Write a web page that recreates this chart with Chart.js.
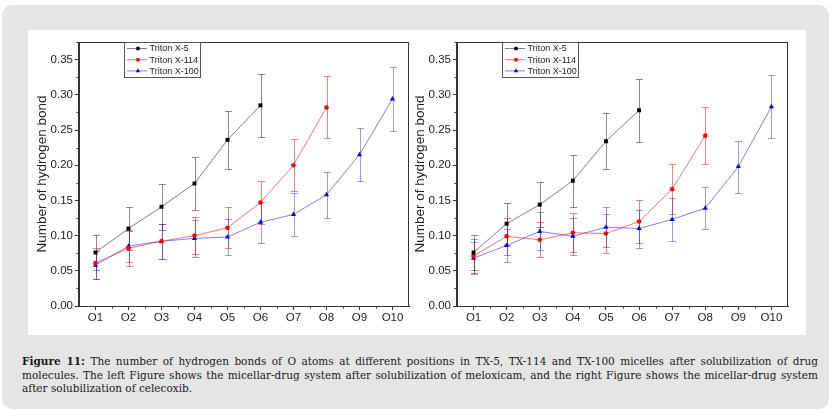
<!DOCTYPE html>
<html>
<head>
<meta charset="utf-8">
<script src="https://cdn.jsdelivr.net/npm/chart.js@4.4.0/dist/chart.umd.min.js"></script>
<style>
  html, body { margin: 0; padding: 0; background: #fff; }
  body { width: 840px; height: 417px; position: relative; overflow: hidden; font-family: "Liberation Sans", Arial, sans-serif; }
  .frame { position: absolute; left: 2px; top: 5px; width: 827px; height: 404px; background: #e5e5e5; border-radius: 10px; }
  .panel { position: absolute; left: 28px; top: 30px; width: 778px; height: 305px; background: #fff; }
  .box { position: absolute; top: 30px; height: 305px; }
  #leftBox { left: 28px; width: 386px; }
  #rightBox { left: 414px; width: 392px; }
  .caption { position: absolute; left: 22px; top: 355px; width: 796px; font-family: "DejaVu Serif", "Liberation Serif", serif; font-size: 10.5px; line-height: 13.5px; color: #1a1a1a; }
  .caption div { white-space: nowrap; }
  .caption .j { text-align: justify; text-align-last: justify; }
</style>
</head>
<body>
<div class="frame"></div>
<div class="panel"></div>
<div class="box" id="leftBox"><canvas id="leftChart"></canvas></div>
<div class="box" id="rightBox"><canvas id="rightChart"></canvas></div>
<div class="caption">
  <div class="j"><b>Figure 11:</b> The number of hydrogen bonds of O atoms at different positions in TX-5, TX-114 and TX-100 micelles after solubilization of drug</div>
  <div class="j">molecules. The left Figure shows the micellar-drug system after solubilization of meloxicam, and the right Figure shows the micellar-drug system</div>
  <div>after solubilization of celecoxib.</div>
</div>
<script>
// categories and series
const categories = ['O1', 'O2', 'O3', 'O4', 'O5', 'O6', 'O7', 'O8', 'O9', 'O10'];
const seriesNames = ['Triton X-5', 'Triton X-114', 'Triton X-100'];
const yTicks = [0, 0.05, 0.10, 0.15, 0.20, 0.25, 0.30, 0.35];

// left figure: meloxicam
const meloxX5 = [0.076, 0.110, 0.141, 0.174, 0.236, 0.285];
const meloxX5Err = [0.025, 0.030, 0.033, 0.037, 0.041, 0.045];
const meloxX114 = [0.061, 0.082, 0.092, 0.100, 0.111, 0.147, 0.200, 0.282];
const meloxX114Err = [0.022, 0.025, 0.025, 0.026, 0.029, 0.031, 0.037, 0.044];
const meloxX100 = [0.058, 0.085, 0.092, 0.096, 0.098, 0.119, 0.130, 0.158, 0.215, 0.294];
const meloxX100Err = [0.020, 0.023, 0.025, 0.026, 0.026, 0.029, 0.031, 0.033, 0.038, 0.045];

// right figure: celecoxib
const celeX5 = [0.076, 0.117, 0.144, 0.178, 0.234, 0.278];
const celeX5Err = [0.025, 0.030, 0.032, 0.037, 0.040, 0.045];
const celeX114 = [0.071, 0.099, 0.094, 0.104, 0.103, 0.120, 0.166, 0.242];
const celeX114Err = [0.024, 0.026, 0.025, 0.028, 0.028, 0.030, 0.035, 0.041];
const celeX100 = [0.068, 0.086, 0.106, 0.099, 0.112, 0.110, 0.123, 0.139, 0.198, 0.283];
const celeX100Err = [0.023, 0.024, 0.027, 0.026, 0.028, 0.027, 0.030, 0.030, 0.037, 0.045];

// styles
const markerColors = ['#000000', '#ff0000', '#0000ff'];
const lineColors = ['rgba(0,0,0,0.5)', 'rgba(255,0,0,0.55)', 'rgba(0,0,255,0.5)'];
const errorColors = ['rgba(0,0,0,0.45)', 'rgba(255,0,0,0.5)', 'rgba(0,0,255,0.4)'];
const pointStyles = ['rect', 'circle', 'triangle'];
const pointRadii = [2.8, 2.3, 3];
const axisColor = '#333';
const textColor = '#222';

// draw a marker the same way for the legend
const drawMarker = (ctx, style, r, x, y) => {
  ctx.beginPath();
  if (style === 'rect') {
    const s = r * Math.SQRT1_2;
    ctx.rect(x - s, y - s, 2 * s, 2 * s);
  } else if (style === 'circle') {
    ctx.arc(x, y, r, 0, Math.PI * 2);
  } else {
    ctx.moveTo(x, y - r);
    ctx.lineTo(x - r * 0.866, y + r * 0.5);
    ctx.lineTo(x + r * 0.866, y + r * 0.5);
    ctx.closePath();
  }
  ctx.fill();
};

// error bars, drawn under the markers
const errorBarPlugin = {
  id: 'errorBars',
  beforeDatasetsDraw(chart) {
    const { ctx, scales: { x, y } } = chart;
    ctx.save();
    ctx.lineWidth = 1;
    chart.data.datasets.forEach((ds, k) => {
      ctx.strokeStyle = errorColors[k];
      ds.data.forEach((v, i) => {
        const e = ds.errors[i];
        const px = Math.round(x.getPixelForValue(i)) + 0.5;
        const top = Math.round(y.getPixelForValue(v + e)) + 0.5;
        const bot = Math.round(y.getPixelForValue(v - e)) + 0.5;
        ctx.beginPath();
        ctx.moveTo(px, top);
        ctx.lineTo(px, bot);
        ctx.moveTo(px - 3.5, top);
        ctx.lineTo(px + 3.5, top);
        ctx.moveTo(px - 3.5, bot);
        ctx.lineTo(px + 3.5, bot);
        ctx.stroke();
      });
    });
    ctx.restore();
  }
};

// box frame, minor ticks and the boxed legend
const framePlugin = {
  id: 'frameAndLegend',
  afterDraw(chart) {
    const { ctx, chartArea: a, scales: { x, y } } = chart;
    ctx.save();
    ctx.strokeStyle = axisColor;
    ctx.lineWidth = 1;
    ctx.strokeRect(Math.round(a.left) - 0.5, Math.round(a.top) + 0.5, Math.round(a.right - a.left), Math.round(a.bottom - a.top));

    // minor ticks
    ctx.beginPath();
    for (let v = 0.025; v < y.max; v += 0.05) {
      const py = Math.round(y.getPixelForValue(v)) + 0.5;
      ctx.moveTo(a.left, py);
      ctx.lineTo(a.left - 2.5, py);
    }
    for (let i = 0; i < categories.length - 1; i++) {
      const px = Math.round(x.getPixelForValue(i + 0.5)) + 0.5;
      ctx.moveTo(px, a.bottom);
      ctx.lineTo(px, a.bottom + 2.5);
    }
    ctx.stroke();

    // legend
    const bx = Math.round(a.left + 45) + 0.5;
    const by = Math.round(a.top) + 0.5;
    ctx.strokeStyle = '#555';
    ctx.strokeRect(bx, by, 76, 35);
    ctx.font = '9px "Liberation Sans", Arial, sans-serif';
    ctx.textBaseline = 'middle';
    chart.data.datasets.forEach((ds, k) => {
      const ly = by + 6 + k * 11.2;
      ctx.strokeStyle = lineColors[k];
      ctx.beginPath();
      ctx.moveTo(bx + 2.5, ly);
      ctx.lineTo(bx + 22.5, ly);
      ctx.stroke();
      ctx.fillStyle = markerColors[k];
      drawMarker(ctx, pointStyles[k], pointRadii[k] * 0.85, bx + 13.5, ly);
      ctx.fillStyle = textColor;
      ctx.fillText(ds.label, bx + 25, ly + 0.5);
    });
    ctx.restore();
  }
};

const buildDatasets = (values, errors) => seriesNames.map((name, k) => ({
  label: name,
  data: values[k],
  errors: errors[k],
  borderColor: lineColors[k],
  backgroundColor: markerColors[k],
  pointBackgroundColor: markerColors[k],
  pointBorderColor: markerColors[k],
  pointBorderWidth: 0,
  pointStyle: pointStyles[k],
  pointRadius: pointRadii[k],
  borderWidth: 1,
  tension: 0,
  fill: false
}));

const makeChart = (id, values, errors, padLeft, padRight, yWidth) => new Chart(document.getElementById(id), {
  type: 'line',
  data: { labels: categories, datasets: buildDatasets(values, errors) },
  plugins: [errorBarPlugin, framePlugin],
  options: {
    responsive: true,
    maintainAspectRatio: false,
    animation: false,
    layout: { padding: { left: padLeft, right: padRight, top: 12, bottom: 0 } },
    plugins: { legend: { display: false }, tooltip: { enabled: false } },
    scales: {
      x: {
        offset: true,
        afterFit: (s) => { s.height = 29; },
        grid: { drawOnChartArea: false, offset: false, tickLength: 4, tickColor: axisColor },
        border: { color: axisColor, width: 1 },
        ticks: { color: textColor, font: { size: 11.5 }, padding: 1, maxRotation: 0, autoSkip: false }
      },
      y: {
        min: 0,
        max: 0.375,
        afterFit: (s) => { s.width = yWidth; },
        afterBuildTicks: (s) => { s.ticks = yTicks.map((v) => ({ value: v })); },
        grid: { drawOnChartArea: false, tickLength: 4, tickColor: axisColor },
        border: { color: axisColor, width: 1 },
        ticks: { color: textColor, font: { size: 11.5 }, padding: 2, callback: (v) => Number(v).toFixed(2) },
        title: {
          display: true,
          text: 'Number of hydrogen bond',
          color: textColor,
          font: { size: 13.5, lineHeight: 0.96 },
          padding: { top: 0, bottom: 0 }
        }
      }
    }
  }
});

makeChart('leftChart', [meloxX5, meloxX114, meloxX100], [meloxX5Err, meloxX114Err, meloxX100Err], 7.5, 5, 43.5);
makeChart('rightChart', [celeX5, celeX114, celeX100], [celeX5Err, celeX114Err, celeX100Err], 0, 18, 43);
</script>
</body>
</html>
